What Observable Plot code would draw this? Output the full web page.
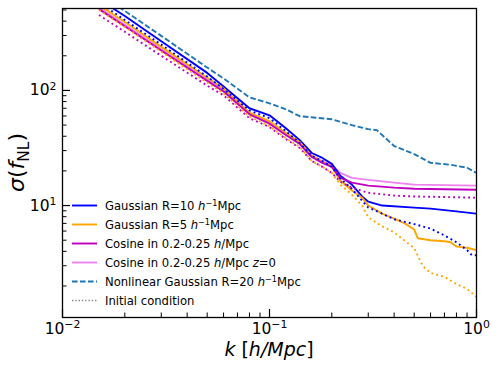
<!DOCTYPE html>
<html><head><meta charset="utf-8">
<script src="https://cdn.jsdelivr.net/npm/d3@7"></script>
<script src="https://cdn.jsdelivr.net/npm/@observablehq/plot@0.6"></script>
<style>body{margin:0;background:#fff}#chart{width:498px;height:369px}</style>
</head><body><div id="chart"></div>
<script>
// ---- axis ticks ----
const xMajor = [0.01, 0.1, 1];
const xMinor = [0.02,0.03,0.04,0.05,0.06,0.07,0.08,0.09,0.2,0.3,0.4,0.5,0.6,0.7,0.8,0.9];
const yMajor = [10, 100];
const yMinor = [2,3,4,5,6,7,8,9,20,30,40,50,60,70,80,90,200,300,400,500];
const xTickLabels = ["10^−2", "10^−1", "10^0"];
const yTickLabels = ["10^1", "10^2"];

// ---- series (k in h/Mpc, sigma(fNL)) ----
const kNonlinear = [0.015,0.02,0.03,0.05,0.06,0.08,0.1,0.12,0.14,0.2,0.25,0.3,0.33,0.4,0.5,0.6,0.75,0.9,1.0];
const sNonlinear = [700,490,298,158,127,87,77.3,68.5,59.7,56.2,49.9,46.1,45.2,32.9,28,23.5,22.6,21.3,19.2];

const kGauss10 = [0.015,0.02,0.03,0.05,0.06,0.08,0.1,0.12,0.14,0.16,0.18,0.2,0.22,0.25,0.28,0.3,0.35,0.5,0.6,0.8,1.0];
const sGauss10 = [620,443,267,142,108,70,60.8,47,37,28.6,25.9,23,18.1,15.2,12,10.8,10,9.6,9.4,8.9,8.5];

const kGauss10IC = [0.015,0.02,0.03,0.05,0.06,0.08,0.1,0.12,0.14,0.16,0.18,0.2,0.22,0.25,0.28,0.3,0.35,0.4,0.5,0.6,0.7,0.8,0.9,0.95,1.0];
const sGauss10IC = [585,409,250,132,103,67,57.4,44.3,34.9,27,24.4,21.7,17.1,14,11,9.6,8.5,7.6,6.9,6.3,5.5,4.8,4.1,3.7,3.7];

const kGauss5 = [0.015,0.02,0.03,0.05,0.06,0.08,0.1,0.12,0.14,0.16,0.18,0.2,0.22,0.25,0.28,0.3,0.35,0.4,0.45,0.5,0.52,0.6,0.7,0.75,0.8,0.9,1.0];
const sGauss5 = [551,393,239,129,104,64,54,42.6,35.6,27,24,21.7,16.4,13.5,11.7,10,8.5,7.7,7.0,6.2,5.2,5.0,4.9,4.8,4.4,4.3,4.1];

const kGauss5IC = [0.015,0.02,0.03,0.05,0.06,0.08,0.1,0.12,0.14,0.16,0.18,0.2,0.22,0.25,0.28,0.3,0.35,0.4,0.5,0.55,0.6,0.7,0.8,0.9,1.0];
const sGauss5IC = [500,356,217,117,94,59.7,49,38.5,32.3,24.4,21.7,19.2,15.2,12.4,10,7.9,6.6,5.85,4.26,2.98,2.6,2.4,2.08,1.89,1.61];

const kCosine = [0.015,0.02,0.03,0.05,0.06,0.08,0.1,0.12,0.14,0.16,0.18,0.2,0.22,0.25,0.3,0.4,0.5,1.0];
const sCosine = [509,361,222,121,98,62,51.4,41,34.2,26.4,23.5,21.7,17.4,15.8,14.9,14.3,14.0,13.7];
const sCosineZ0 = [525,372,229,125,101,64,53,42.3,35.2,27.2,24.2,22.4,19.2,17.4,16.7,15.8,15.2,14.9];
const sCosineIC = [452,323,200,110,90.6,57.4,48,37.8,31.6,24.4,21.7,19.2,16.1,14.3,12.9,12.2,12.0,11.7];

// ---- styles ----
const C = {blue: "#0000ff", orange: "#ffa500", mag: "#bf00bf", violet: "#ee82ee", tab: "#1f77b4", gray: "#808080"};
const LW = 1.9;
const dotted = "1.9,3.1";
const dashed = "5.6,2.4";

const rows = (ks, ss) => ks.map((k, i) => ({k, s: ss[i]}));
const lineMark = (ks, ss, stroke, dash) => Plot.line(rows(ks, ss), {
  x: "k", y: "s", stroke, strokeWidth: LW, strokeDasharray: dash,
  strokeLinecap: "butt", strokeLinejoin: "round", clip: true, curve: "linear"
});

const W = 498, H = 369;
const mT = 8, mR = 22, mB = 52, mL = 62;
const PW = W - mL - mR, PH = H - mT - mB;
const FONT = "'DejaVu Sans', sans-serif";

const chart = Plot.plot({
  width: W, height: H,
  marginTop: mT, marginRight: mR, marginBottom: mB, marginLeft: mL,
  style: {fontFamily: FONT, fontSize: "15.5px", background: "white", color: "black", overflow: "visible"},
  x: {type: "log", domain: [0.01, 1], label: null},
  y: {type: "log", domain: [1.065, 515], label: null},
  marks: [
    lineMark(kCosine, sCosineZ0, C.violet),
    lineMark(kGauss10, sGauss10, C.blue),
    lineMark(kGauss5, sGauss5, C.orange),
    lineMark(kCosine, sCosine, C.mag),
    lineMark(kNonlinear, sNonlinear, C.tab, dashed),
    lineMark(kGauss10IC, sGauss10IC, C.blue, dotted),
    lineMark(kGauss5IC, sGauss5IC, C.orange, dotted),
    lineMark(kCosine, sCosineIC, C.mag, dotted),
    Plot.tickX(xMinor, {x: d => d, insetTop: PH - 4.5, stroke: "black", strokeWidth: 1}),
    Plot.tickX(xMajor, {x: d => d, insetTop: PH - 8, stroke: "black", strokeWidth: 1.2}),
    Plot.tickY(yMinor.filter(v => v < 515 && v > 1.065), {y: d => d, insetRight: PW - 4.5, stroke: "black", strokeWidth: 1}),
    Plot.tickY(yMajor, {y: d => d, insetRight: PW - 8, stroke: "black", strokeWidth: 1.2}),
    Plot.axisX(xMajor, {tickSize: 0, tickPadding: 5, tickFormat: d => xTickLabels[xMajor.indexOf(d)], label: null}),
    Plot.axisY(yMajor, {tickSize: 0, tickPadding: 6, tickFormat: d => yTickLabels[yMajor.indexOf(d)], label: null}),
    Plot.frame({stroke: "black", strokeWidth: 1.3})
  ]
});
document.getElementById("chart").appendChild(chart);

const svg = d3.select(chart);

function rich(textSel, segs, size) {
  let shift = 0;
  for (const [t, kind] of segs) {
    const ts = textSel.append("tspan").text(t);
    let target = 0;
    if (kind === "sup") { ts.attr("font-size", size * 0.7); target = -size * 0.36; }
    if (kind === "sub") { ts.attr("font-size", size * 0.7); target = size * 0.22; }
    if (kind === "i") ts.attr("font-style", "italic");
    if (target !== shift) { ts.attr("dy", target - shift); shift = target; }
  }
}

// superscript tick labels
svg.selectAll('g[aria-label="x-axis tick label"] text, g[aria-label="y-axis tick label"] text').each(function() {
  const t = d3.select(this);
  const [base, exp] = t.text().split("^");
  t.text(null);
  rich(t, [[base, "n"], [exp, "sup"]], 15.5);
});

// axis labels
const xl = svg.append("text").attr("x", mL + PW / 2).attr("y", 356).attr("text-anchor", "middle")
  .attr("font-family", FONT).attr("font-size", 19).attr("fill", "black");
rich(xl, [["k", "i"], [" [", "n"], ["h/Mpc", "i"], ["]", "n"]], 19);

const yl = svg.append("text").attr("transform", `translate(24,${mT + PH / 2}) rotate(-90)`).attr("text-anchor", "middle")
  .attr("font-family", FONT).attr("font-size", 22).attr("fill", "black");
rich(yl, [["σ", "i"], ["(", "n"], ["f", "i"], ["NL", "sub"], [")", "n"]], 22);

// legend
const legendItems = [
  {stroke: C.blue, dash: null, segs: [["Gaussian R=10 ", "n"], ["h", "i"], ["−1", "sup"], ["Mpc", "n"]]},
  {stroke: C.orange, dash: null, segs: [["Gaussian R=5 ", "n"], ["h", "i"], ["−1", "sup"], ["Mpc", "n"]]},
  {stroke: C.mag, dash: null, segs: [["Cosine in 0.2-0.25 ", "n"], ["h", "i"], ["/Mpc", "n"]]},
  {stroke: C.violet, dash: null, segs: [["Cosine in 0.2-0.25 ", "n"], ["h", "i"], ["/Mpc ", "n"], ["z", "i"], ["=0", "n"]]},
  {stroke: C.tab, dash: dashed, segs: [["Nonlinear Gaussian R=20 ", "n"], ["h", "i"], ["−1", "sup"], ["Mpc", "n"]]},
  {stroke: C.gray, dash: "1.3,2", segs: [["Initial condition", "n"]]}
];
const lg = svg.append("g").attr("font-family", FONT).attr("font-size", 11.6).attr("text-anchor", "start");
legendItems.forEach((it, i) => {
  const cy = 205.5 + i * 19;
  lg.append("line").attr("x1", 72).attr("x2", 97).attr("y1", cy).attr("y2", cy)
    .attr("stroke", it.stroke).attr("stroke-width", it.dash === "1.3,2" ? 1.3 : LW).attr("stroke-dasharray", it.dash);
  const t = lg.append("text").attr("x", 105).attr("y", cy + 4.2).attr("fill", "black").attr("text-anchor", "start");
  rich(t, it.segs, 11.6);
});
</script>
</body></html>
